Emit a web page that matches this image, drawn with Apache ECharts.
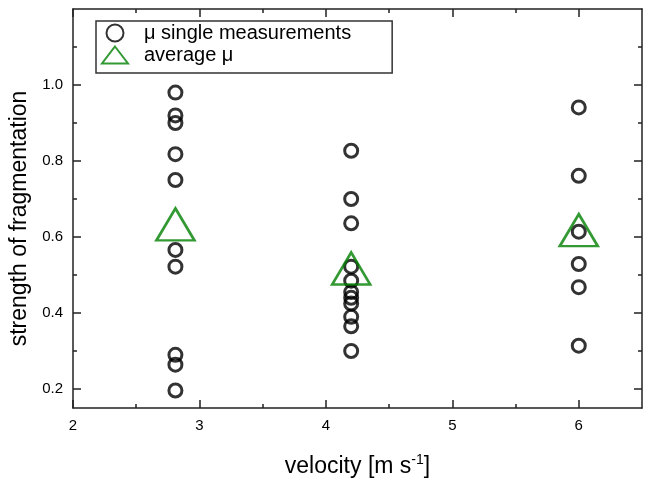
<!DOCTYPE html>
<html>
<head>
<meta charset="utf-8">
<script src="https://cdn.jsdelivr.net/npm/echarts@6/dist/echarts.min.js"></script>
<style>
  html, body { margin: 0; padding: 0; background: #fff; }
  #chart { width: 647px; height: 485px; }
</style>
</head>
<body>
<div id="chart"></div>
<script>
// velocities of the three measurement groups
const velocities = [2.81, 4.2, 6.0];
// single measurements of mu, one list per velocity
const singleV1 = [0.98, 0.92, 0.90, 0.818, 0.75, 0.566, 0.522, 0.29, 0.264, 0.196];
const singleV2 = [0.827, 0.70, 0.636, 0.522, 0.485, 0.455, 0.44, 0.425, 0.39, 0.365, 0.30];
const singleV3 = [0.941, 0.761, 0.614, 0.529, 0.468, 0.314];
// averages
const averageMu = [0.62, 0.504, 0.605];

const xMajor = [2, 3, 4, 5, 6];
const xMinor = [2.5, 3.5, 4.5, 5.5];
const yMajor = [0.2, 0.4, 0.6, 0.8, 1.0];
const yMinor = [0.3, 0.5, 0.7, 0.9, 1.1];

const singlePoints = [];
[singleV1, singleV2, singleV3].forEach(function (list, i) {
  list.forEach(function (v) { singlePoints.push([velocities[i], v]); });
});
const avgPoints = averageMu.map(function (v, i) { return [velocities[i], v]; });

const font = 'Liberation Sans, Arial, sans-serif';
const lineCol = '#222';

function xAx(pos, ticks, len, labels, line) {
  return {
    type: 'value', position: pos, min: 2, max: 6.5,
    axisLine: { show: line, lineStyle: { color: lineCol, width: 1.5 } },
    axisTick: { show: true, inside: true, length: len, customValues: ticks, lineStyle: { color: lineCol, width: 1.5 } },
    axisLabel: { show: labels, customValues: ticks, color: '#000', fontSize: 15, fontFamily: font, margin: 10 },
    splitLine: { show: false }
  };
}
function yAx(pos, ticks, len, labels, line) {
  return {
    type: 'value', position: pos, min: 0.15, max: 1.2,
    axisLine: { show: line, lineStyle: { color: lineCol, width: 1.5 } },
    axisTick: { show: true, inside: true, length: len, customValues: ticks, lineStyle: { color: lineCol, width: 1.5 } },
    axisLabel: { show: labels, customValues: ticks, color: '#000', fontSize: 15, fontFamily: font, margin: 10,
      formatter: function (v) { return v.toFixed(1); } },
    splitLine: { show: false }
  };
}

const xMain = xAx('bottom', xMajor, 8, true, true);
xMain.name = '{a|velocity [m s}{s|-1}{a|]}';
xMain.nameLocation = 'middle';
xMain.nameGap = 45;
xMain.nameTextStyle = {
  rich: {
    a: { fontSize: 23, fontFamily: font, color: '#000' },
    s: { fontSize: 14, fontFamily: font, color: '#000', padding: [0, 0, 13, 0] }
  }
};

const yMain = yAx('left', yMajor, 8, true, true);
yMain.name = 'strength of fragmentation';
yMain.nameLocation = 'middle';
yMain.nameGap = 40;
yMain.nameTextStyle = { fontSize: 23, fontFamily: font, color: '#000', padding: [0, 0, 0, -20] };

const chart = echarts.init(document.getElementById('chart'));
chart.setOption({
  animation: false,
  backgroundColor: '#fff',
  grid: { left: 73, right: 5, top: 9, bottom: 77, containLabel: false, outerBoundsMode: 'none' },
  xAxis: [
    xMain,
    xAx('bottom', xMinor, 4, false, false),
    xAx('top', xMajor, 8, false, true),
    xAx('top', xMinor, 4, false, false)
  ],
  yAxis: [
    yMain,
    yAx('left', yMinor, 4, false, false),
    yAx('right', yMajor, 8, false, true),
    yAx('right', yMinor, 4, false, false)
  ],
  legend: {
    orient: 'vertical', left: 96, top: 21,
    padding: [2, 41, 8, 5], itemGap: 2,
    itemWidth: 26, itemHeight: 17,
    borderColor: '#333', borderWidth: 1.5,
    textStyle: { fontSize: 20, fontFamily: font, color: '#000', padding: [0, 0, 0, 11] },
    data: ['μ single measurements', 'average μ']
  },
  series: [
    {
      name: 'μ single measurements', type: 'scatter',
      xAxisIndex: 0, yAxisIndex: 0,
      symbol: 'circle', symbolSize: 13,
      itemStyle: { color: 'rgba(0,0,0,0)', borderColor: '#000', borderWidth: 3 },
      data: singlePoints
    },
    {
      name: 'average μ', type: 'scatter',
      xAxisIndex: 0, yAxisIndex: 0,
      symbol: 'triangle', symbolSize: [38, 32], symbolOffset: [0, -5],
      itemStyle: { color: 'rgba(0,0,0,0)', borderColor: '#008000', borderWidth: 2.6 },
      data: avgPoints
    }
  ]
});
</script>
</body>
</html>
